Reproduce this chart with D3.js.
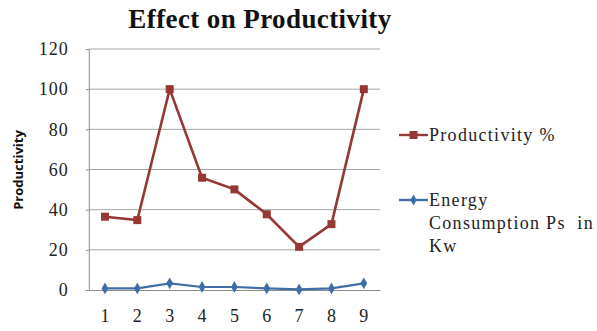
<!DOCTYPE html>
<html>
<head>
<meta charset="utf-8">
<script src="https://cdn.jsdelivr.net/npm/d3@7"></script>
<style>
  html, body { margin: 0; padding: 0; background: #fff; }
  svg { display: block; }
</style>
</head>
<body>
<svg id="chart" width="597" height="331"></svg>
<script>
// Trial number along the x axis
const categories = [1, 2, 3, 4, 5, 6, 7, 8, 9];
// Series values
const productivity = [36.5, 34.8, 100, 55.9, 50.1, 37.7, 21.5, 32.8, 100];
const energy = [0.8, 0.8, 3.3, 1.5, 1.5, 0.8, 0.3, 0.8, 3.3];
// Y axis ticks
const yTicks = [0, 20, 40, 60, 80, 100, 120];

const svg = d3.select("#chart");
const plot = { left: 88.8, right: 380, top: 49, bottom: 290 };

const x = d3.scaleBand().domain(categories).range([plot.left, plot.right]);
const y = d3.scaleLinear().domain([0, 120]).range([plot.bottom, plot.top]);
const cx = d => x(d) + x.bandwidth() / 2;

const serif = "'Liberation Serif', 'Times New Roman', serif";

// Title
svg.append("text")
  .attr("x", 260).attr("y", 28)
  .attr("text-anchor", "middle")
  .attr("font-family", serif).attr("font-weight", "bold")
  .attr("font-size", 27).attr("letter-spacing", 0.4).attr("fill", "#111")
  .text("Effect on Productivity");

// Gridlines
svg.append("g").selectAll("line").data(yTicks.filter(t => t > 0)).join("line")
  .attr("x1", plot.left).attr("x2", plot.right)
  .attr("y1", d => y(d)).attr("y2", d => y(d))
  .attr("stroke", "#a6a6a6").attr("stroke-width", 1);

// Y axis
const yAxis = svg.append("g")
  .attr("transform", `translate(${plot.left},0)`)
  .call(d3.axisLeft(y).tickValues(yTicks).tickSize(3).tickPadding(17));
yAxis.select(".domain").attr("stroke", "#8c8c8c");
yAxis.selectAll(".tick line").attr("stroke", "#8c8c8c");
yAxis.selectAll(".tick text")
  .attr("font-family", serif).attr("font-size", 18)
  .attr("letter-spacing", 1).attr("fill", "#222");

// X axis
const xAxis = svg.append("g")
  .attr("transform", `translate(0,${plot.bottom})`)
  .call(d3.axisBottom(x).tickSize(0).tickPadding(19));
xAxis.select(".domain").attr("stroke", "#8c8c8c");
xAxis.selectAll(".tick text")
  .attr("font-family", serif).attr("font-size", 18).attr("fill", "#222");

// Y axis title
svg.append("text")
  .attr("transform", `translate(23,170) rotate(-90)`)
  .attr("text-anchor", "middle")
  .attr("font-family", "'Open Sans', 'Noto Sans', sans-serif")
  .attr("font-weight", "bold").attr("font-size", 13).attr("fill", "#111")
  .text("Productivity");

const red = "#953735";
const blue = "#3f6ea6";

const line = d3.line().x((d, i) => cx(categories[i])).y(d => y(d));

// Energy consumption series
svg.append("path").datum(energy)
  .attr("d", line).attr("fill", "none")
  .attr("stroke", blue).attr("stroke-width", 2.2);
svg.append("g").selectAll("path").data(energy).join("path")
  .attr("d", d3.symbol(d3.symbolDiamond, 40))
  .attr("transform", (d, i) => `translate(${cx(categories[i])},${y(d)})`)
  .attr("fill", blue);

// Productivity series
svg.append("path").datum(productivity)
  .attr("d", line).attr("fill", "none")
  .attr("stroke", red).attr("stroke-width", 2.6);
svg.append("g").selectAll("rect").data(productivity).join("rect")
  .attr("x", (d, i) => cx(categories[i]) - 4)
  .attr("y", d => y(d) - 4)
  .attr("width", 8).attr("height", 8)
  .attr("fill", red);

// Legend
const legend = svg.append("g");
const entries = [
  { color: red, lines: ["Productivity %"], y: 135, marker: "square" },
  { color: blue, lines: ["Energy", "Consumption Ps  in", "Kw"], y: 200, marker: "diamond" }
];
entries.forEach(e => {
  legend.append("line")
    .attr("x1", 399).attr("x2", 428).attr("y1", e.y).attr("y2", e.y)
    .attr("stroke", e.color).attr("stroke-width", 2.4);
  if (e.marker === "square") {
    legend.append("rect").attr("x", 409.5).attr("y", e.y - 4)
      .attr("width", 8).attr("height", 8).attr("fill", e.color);
  } else {
    legend.append("path").attr("d", d3.symbol(d3.symbolDiamond, 36))
      .attr("transform", `translate(413.5,${e.y})`).attr("fill", e.color);
  }
  const t = legend.append("text")
    .attr("font-family", serif).attr("font-size", 18)
    .attr("letter-spacing", 1.3).attr("fill", "#222")
    .attr("xml:space", "preserve");
  e.lines.forEach((s, i) => {
    t.append("tspan").attr("x", 429).attr("y", e.y + 5.5 + i * 23).text(s);
  });
});
</script>
</body>
</html>
